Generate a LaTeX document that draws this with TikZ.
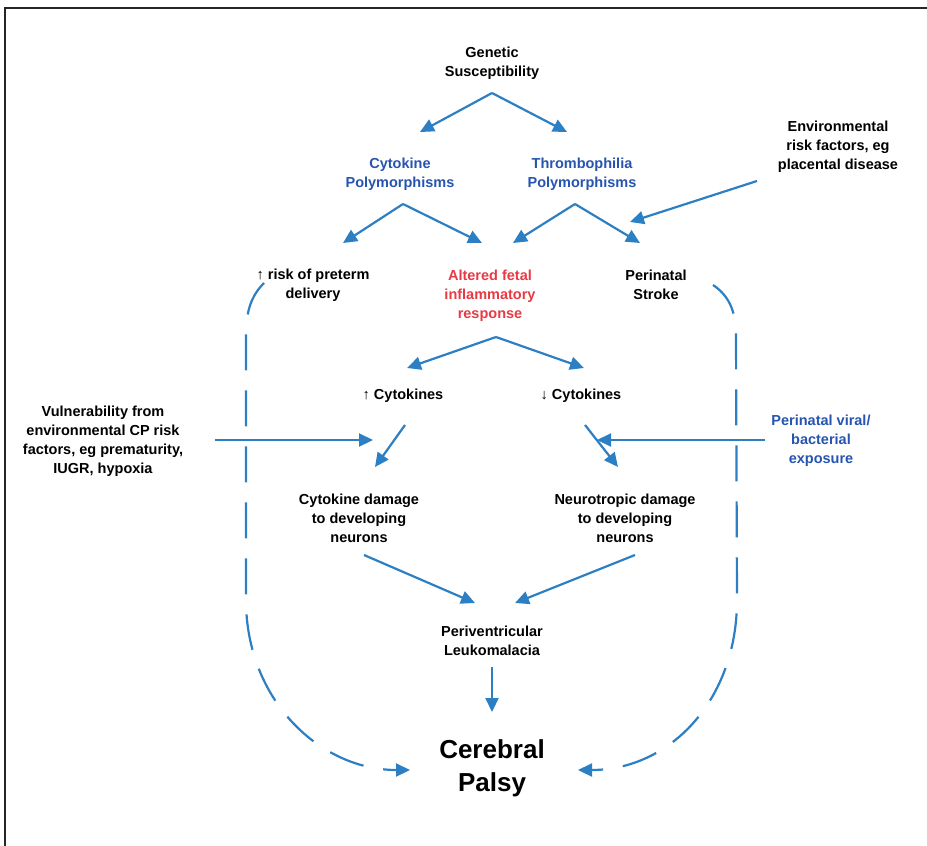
\documentclass[tikz,border=0pt]{standalone}
\usepackage{fontspec}
\setmainfont{Liberation Sans}
\usetikzlibrary{arrows.meta}
\definecolor{arrowblue}{RGB}{45,127,196}
\definecolor{textblue}{RGB}{38,84,176}
\definecolor{textred}{RGB}{232,58,68}
\tikzset{
  lbl/.style={align=center, inner sep=0pt, font=\fontsize{14.5}{19}\selectfont\bfseries},
  big/.style={align=center, inner sep=0pt, font=\fontsize{26}{33}\selectfont\bfseries},
  arr/.style={draw=arrowblue, line width=2.2pt, -{Triangle[length=14pt,width=13pt]}},
  dasharr/.style={arr, dash pattern=on 36pt off 20pt},
}
\begin{document}
\begin{tikzpicture}[x=1pt,y=-1pt]
      \useasboundingbox (0,0) rectangle (927,846);
      \draw[line width=1.6pt, black!85] (5,846) -- (5,8) -- (927,8);
      \draw
        (492,63) node[lbl] (gen){Genetic\\Susceptibility}
        (400,174) node[lbl, textblue] (cytp){Cytokine\\Polymorphisms}
        (582,174) node[lbl, textblue] (thrp){Thrombophilia\\Polymorphisms}
        (838,147) node[lbl] (env){Environmental\\risk factors, eg\\placental disease}
        (313,285) node[lbl] (risk){↑ risk of preterm\\delivery}
        (490,296) node[lbl, textred] (alt){Altered fetal\\inflammatory\\response}
        (656,285) node[lbl] (stroke){Perinatal\\Stroke}
        (403,396) node[lbl] (upc){↑ Cytokines}
        (581,396) node[lbl] (dnc){↓ Cytokines}
        (103,441) node[lbl] (vul){Vulnerability from\\environmental CP risk\\factors, eg prematurity,\\IUGR, hypoxia}
        (821,441) node[lbl, textblue] (viral){Perinatal viral/\\bacterial\\exposure}
        (359,518) node[lbl] (cdam){Cytokine damage\\to developing\\neurons}
        (625,518) node[lbl] (ndam){Neurotropic damage\\to developing\\neurons}
        (492,641) node[lbl] (pvl){Periventricular\\Leukomalacia}
        (492,768) node[big] (cp){Cerebral\\Palsy};
      \coordinate (envtip) at (630,222);
      \coordinate (vultip) at (373,440);
      \coordinate (viraltip) at (597,440);
      \begin{scope}[arr]
        \draw ([shift={(0,30)}]gen.center) to ([shift={(20,-42)}]cytp.center);
        \draw ([shift={(0,30)}]gen.center) to ([shift={(-15,-42)}]thrp.center);
        \draw ([shift={(3,30)}]cytp.center) to ([shift={(30,-42)}]risk.center);
        \draw ([shift={(3,30)}]cytp.center) to ([shift={(-8,-53)}]alt.center);
        \draw ([shift={(-7,30)}]thrp.center) to ([shift={(23,-53)}]alt.center);
        \draw ([shift={(-7,30)}]thrp.center) to ([shift={(-16,-42)}]stroke.center);
        \draw ([shift={(-81,34)}]env.center) to (envtip);
        \draw ([shift={(6,41)}]alt.center) to ([shift={(4,-28)}]upc.center);
        \draw ([shift={(6,41)}]alt.center) to ([shift={(3,-28)}]dnc.center);
        \draw ([shift={(2,29)}]upc.center) to ([shift={(16,-51)}]cdam.center);
        \draw ([shift={(4,29)}]dnc.center) to ([shift={(-7,-51)}]ndam.center);
        \draw ([shift={(112,-1)}]vul.center) to (vultip);
        \draw ([shift={(-56,-1)}]viral.center) to (viraltip);
        \draw ([shift={(5,37)}]cdam.center) to ([shift={(-17,-38)}]pvl.center);
        \draw ([shift={(10,37)}]ndam.center) to ([shift={(23,-38)}]pvl.center);
        \draw ([shift={(0,26)}]pvl.center) to ([shift={(0,-56)}]cp.center);
      \end{scope}
      % dashed side paths
      \draw[dasharr] ([shift={(-49,-2)}]risk.center) .. controls (252,295) and (246,310) .. (246,335)
        -- (246,600) .. controls (246,700) and (320,770) .. ([shift={(-82,2)}]cp.center);
      \draw[dasharr] ([shift={(57,0)}]stroke.center) .. controls (728,295) and (736,310) .. (736,335)
        -- (737,600) .. controls (737,700) and (670,770) .. ([shift={(86,2)}]cp.center);
    \end{tikzpicture}
\end{document}
